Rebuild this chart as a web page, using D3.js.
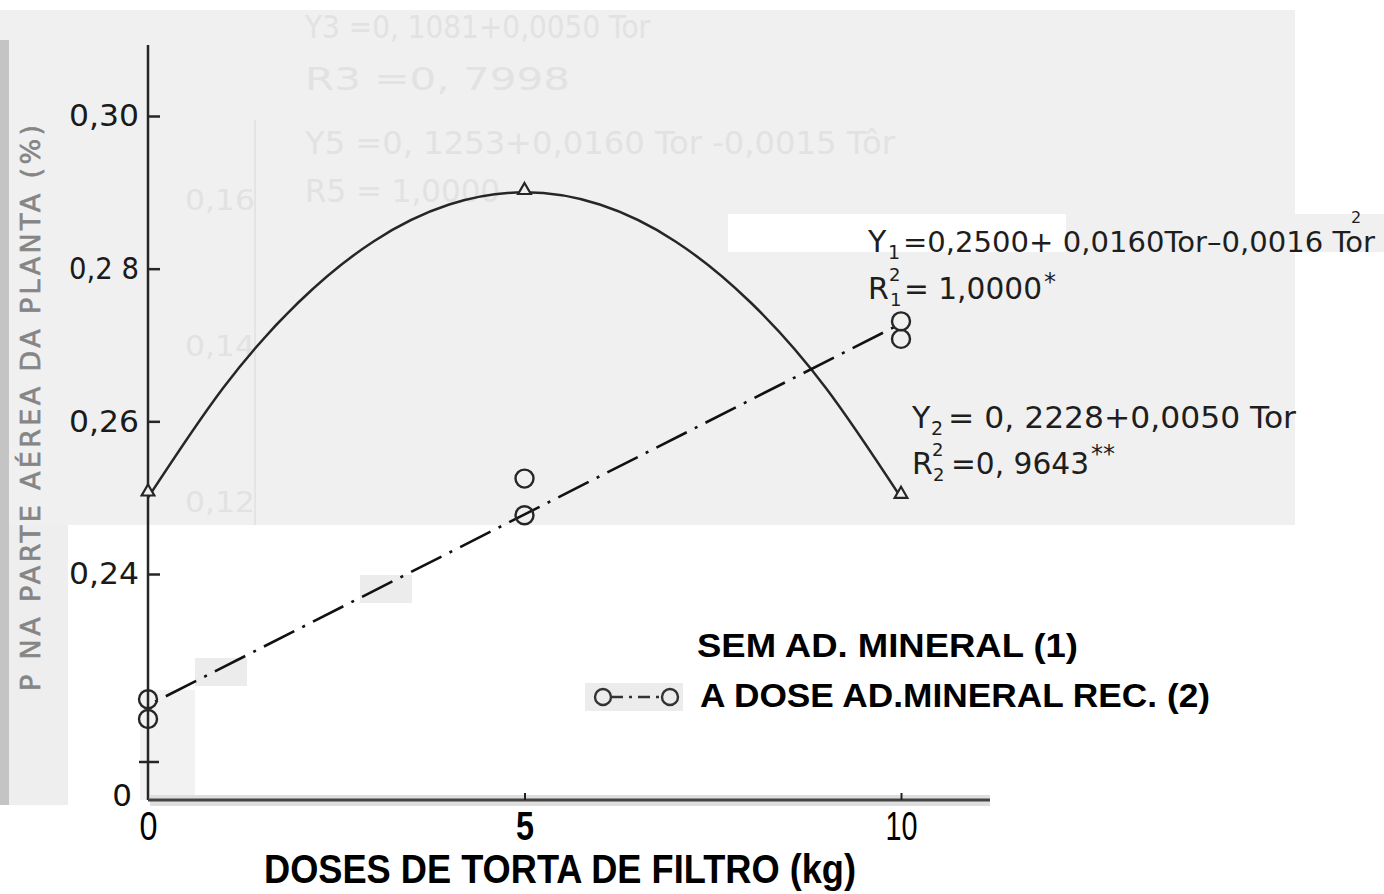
<!DOCTYPE html>
<html>
<head>
<meta charset="utf-8">
<script src="https://cdn.jsdelivr.net/npm/d3@7/dist/d3.min.js"></script>
<style>
  html, body { margin: 0; padding: 0; background: #fff; }
  svg { display: block; }
</style>
</head>
<body>
<svg id="chart" width="1384" height="894"></svg>
<script>
// ---------------- DATA ----------------
const doses = [0, 5, 10];                       // DOSES DE TORTA DE FILTRO (kg)
const xTicks = [0, 5, 10];
const xTickLabels = ["0", "5", "10"];
const yTicks = [0.24, 0.26, 0.28, 0.30];
const yTickLabels = ["0,24", "0,26", "0,2 8", "0,30"];

// (1) SEM AD. MINERAL — observed (triangles)
const semMineral = [0.2505, 0.2900, 0.2502];
// (1) fitted curve
const fit1X = [0, 1, 2, 3, 4, 5, 6, 7, 8, 9, 10];
const fit1Y = [0.2500, 0.2644, 0.2756, 0.2836, 0.2884, 0.2900, 0.2884, 0.2836, 0.2756, 0.2644, 0.2500];

// (2) A DOSE AD. MINERAL REC. — observed (two circles per dose)
const comMineralA = [0.2236, 0.2525, 0.2731];
const comMineralB = [0.2210, 0.2477, 0.2708];
// (2) fitted line end points
const fit2X = [0, 10];
const fit2Y = [0.2228, 0.2728];

// ---------------- DRAW ----------------
const svg = d3.select("#chart");
const W = 1384, H = 894;
const ink = "#262626";
const LETTER = "'DejaVu Sans', 'Noto Sans', sans-serif";
const BOLDN = "'Liberation Sans', Arial, sans-serif";

const x = d3.scaleLinear().domain([0, 10]).range([148, 901]);
const y = d3.scaleLinear().domain([0.24, 0.30]).range([574, 116]);

// scanned-paper background
svg.append("rect").attr("width", W).attr("height", H).attr("fill", "#fff");
svg.append("rect").attr("x", 0).attr("y", 10).attr("width", 1295).attr("height", 515).attr("fill", "#f0f0f0");
svg.append("rect").attr("x", 0).attr("y", 525).attr("width", 68).attr("height", 280).attr("fill", "#eeeeee");
svg.append("rect").attr("x", 0).attr("y", 40).attr("width", 9).attr("height", 765).attr("fill", "#c4c4c4");
svg.append("rect").attr("x", 140).attr("y", 690).attr("width", 55).attr("height", 110).attr("fill", "#f2f2f2");
svg.append("rect").attr("x", 360).attr("y", 575).attr("width", 52).attr("height", 28).attr("fill", "#ececec");
svg.append("rect").attr("x", 195).attr("y", 658).attr("width", 52).attr("height", 28).attr("fill", "#ececec");
svg.append("rect").attr("x", 728).attr("y", 214).attr("width", 338).attr("height", 38).attr("fill", "#fff");
svg.append("rect").attr("x", 1295).attr("y", 214).attr("width", 89).attr("height", 38).attr("fill", "#f0f0f0");

// show-through from the reverse page (very faint)
const ghost = svg.append("g").attr("fill", "#e2e2e2").attr("font-family", LETTER).attr("font-size", 32);
function gh(txt, gx, gy, len, size) {
  const t = ghost.append("text").attr("x", gx).attr("y", gy).text(txt);
  if (size) t.attr("font-size", size);
  if (len) t.attr("textLength", len).attr("lengthAdjust", "spacingAndGlyphs");
}
gh("Y3 =0, 1081+0,0050 Tor", 305, 38, 345);
gh("R3 =0, 7998", 305, 90, 265);
gh("Y5 =0, 1253+0,0160 Tor -0,0015 Tôr", 305, 154, 590);
gh("R5 = 1,0000", 305, 202, 195);
gh("0,16", 185, 210, 70, 28);
gh("0,14", 185, 356, 70, 28);
gh("0,12", 185, 512, 70, 28);
svg.append("line").attr("x1", 255).attr("x2", 255).attr("y1", 120).attr("y2", 525)
  .attr("stroke", "#e4e4e4").attr("stroke-width", 2);

// Y axis
svg.append("line").attr("x1", 148).attr("x2", 148).attr("y1", 45).attr("y2", 800)
  .attr("stroke", ink).attr("stroke-width", 2.5);
const yAxis = d3.axisLeft(y).tickValues(yTicks).tickSizeInner(-12).tickSizeOuter(0).tickPadding(9)
  .tickFormat((d, i) => yTickLabels[i]);
const gy = svg.append("g").attr("transform", "translate(148,0)").call(yAxis);
gy.select(".domain").remove();
gy.selectAll(".tick line").attr("stroke", ink).attr("stroke-width", 2.5);
gy.selectAll(".tick text").attr("fill", "#1a1a1a").attr("font-family", LETTER).attr("font-size", 31)
  .attr("textLength", 70).attr("lengthAdjust", "spacingAndGlyphs");
// axis break tick and zero
svg.append("line").attr("x1", 139).attr("x2", 159).attr("y1", 762).attr("y2", 762)
  .attr("stroke", ink).attr("stroke-width", 2.5);
svg.append("text").attr("x", 132).attr("y", 806).attr("text-anchor", "end")
  .attr("font-family", LETTER).attr("font-size", 31).attr("fill", "#111").text("0");

// X axis
svg.append("rect").attr("x", 150).attr("y", 795).attr("width", 840).attr("height", 11).attr("fill", "#dedede");
svg.append("line").attr("x1", 148).attr("x2", 990).attr("y1", 800).attr("y2", 800)
  .attr("stroke", "#444").attr("stroke-width", 3);
const xAxis = d3.axisBottom(x).tickValues(xTicks).tickSizeInner(-7).tickSizeOuter(0).tickPadding(12)
  .tickFormat((d, i) => xTickLabels[i]);
const gx = svg.append("g").attr("transform", "translate(0,800)").call(xAxis);
gx.select(".domain").remove();
gx.selectAll(".tick line").attr("stroke", "#222").attr("stroke-width", 2)
  .filter(d => d === 0).remove();
gx.selectAll(".tick text").attr("fill", "#000").attr("font-family", BOLDN).attr("font-size", 40)
  .attr("textLength", d => d === 10 ? 32 : 18).attr("lengthAdjust", "spacingAndGlyphs")
  .attr("font-weight", d => d === 5 ? "bold" : "normal");

// axis titles
svg.append("text").attr("x", 560).attr("y", 883).attr("text-anchor", "middle")
  .attr("font-family", BOLDN).attr("font-weight", "bold").attr("font-size", 40).attr("fill", "#000")
  .attr("textLength", 592).attr("lengthAdjust", "spacingAndGlyphs")
  .text("DOSES  DE  TORTA  DE  FILTRO  (kg)");
svg.append("text").attr("transform", "translate(40,408) rotate(-90)").attr("text-anchor", "middle")
  .attr("font-family", LETTER).attr("font-size", 27).attr("fill", "#858585")
  .attr("stroke", "#858585").attr("stroke-width", 0.6)
  .attr("textLength", 566).attr("lengthAdjust", "spacing")
  .text("P NA PARTE AÉREA DA PLANTA (%)");

// Series 1: fitted curve + triangles
const line = d3.line().x(d => x(d[0])).y(d => y(d[1]));
svg.append("path").datum(fit1X.map((v, i) => [v, fit1Y[i]]))
  .attr("d", line.curve(d3.curveNatural)).attr("fill", "none")
  .attr("stroke", ink).attr("stroke-width", 2.5);
const tri = d3.symbol().type(d3.symbolTriangle).size(70);
svg.selectAll(".tri").data(doses.map((d, i) => [d, semMineral[i]])).enter().append("path")
  .attr("transform", d => `translate(${x(d[0])},${y(d[1]) - 2})`)
  .attr("d", tri).attr("fill", "#f0f0f0").attr("stroke", ink).attr("stroke-width", 2.2);

// Series 2: fitted dash-dot line + circles
svg.append("path").datum(fit2X.map((v, i) => [v, fit2Y[i]]))
  .attr("d", d3.line().x(d => x(d[0])).y(d => y(d[1]))).attr("fill", "none")
  .attr("stroke", "#111").attr("stroke-width", 2.6)
  .attr("stroke-dasharray", "34,9,3,9").attr("stroke-dashoffset", -20);
const circ = doses.flatMap((d, i) => [[d, comMineralA[i]], [d, comMineralB[i]]]);
svg.selectAll(".pt").data(circ).enter().append("circle")
  .attr("cx", d => x(d[0])).attr("cy", d => y(d[1])).attr("r", 9)
  .attr("fill", "none").attr("stroke", ink).attr("stroke-width", 2.4);

// Equations
const eq = svg.append("g").attr("font-family", LETTER).attr("fill", "#1e1e1e");
function put(txt, x0, y0, size, len) {
  const t = eq.append("text").attr("x", x0).attr("y", y0).attr("font-size", size).text(txt);
  if (len) t.attr("textLength", len).attr("lengthAdjust", "spacingAndGlyphs");
  return t;
}
put("Y", 868, 252, 30);
put("1", 888, 259, 19);
put("=0,2500+ 0,0160Tor–0,0016 Tor", 903, 252, 28, 472);
put("2", 1351, 223, 16);

put("R", 868, 299, 30);
put("2", 889, 281, 18);
put("1", 890, 306, 18);
put("= 1,0000", 904, 299, 30, 138);
put("*", 1044, 290, 24);

put("Y", 912, 428, 30);
put("2", 931, 435, 19);
put("= 0, 2228+0,0050 Tor", 948, 428, 30, 348);
put("R", 912, 474, 30);
put("2", 932, 456, 18);
put("2", 933, 481, 18);
put("=0, 9643", 951, 474, 30, 138);
put("**", 1091, 462, 24);

// Legend
const lg = svg.append("g");
lg.append("text").attr("x", 697).attr("y", 657).attr("font-family", BOLDN).attr("font-weight", "bold")
  .attr("font-size", 34).attr("fill", "#000").attr("textLength", 381).attr("lengthAdjust", "spacingAndGlyphs")
  .text("SEM  AD.  MINERAL  (1)");
lg.append("rect").attr("x", 585).attr("y", 683).attr("width", 98).attr("height", 28).attr("fill", "#ececec");
lg.append("line").attr("x1", 611).attr("x2", 662).attr("y1", 697).attr("y2", 697)
  .attr("stroke", "#333").attr("stroke-width", 2.4).attr("stroke-dasharray", "12,6,3,6");
[603, 670].forEach(cx => lg.append("circle").attr("cx", cx).attr("cy", 697).attr("r", 8)
  .attr("fill", "none").attr("stroke", "#333").attr("stroke-width", 2.4));
lg.append("text").attr("x", 700).attr("y", 707).attr("font-family", BOLDN).attr("font-weight", "bold")
  .attr("font-size", 34).attr("fill", "#000").attr("textLength", 510).attr("lengthAdjust", "spacingAndGlyphs")
  .text("A DOSE  AD.MINERAL REC. (2)");
</script>
</body>
</html>
